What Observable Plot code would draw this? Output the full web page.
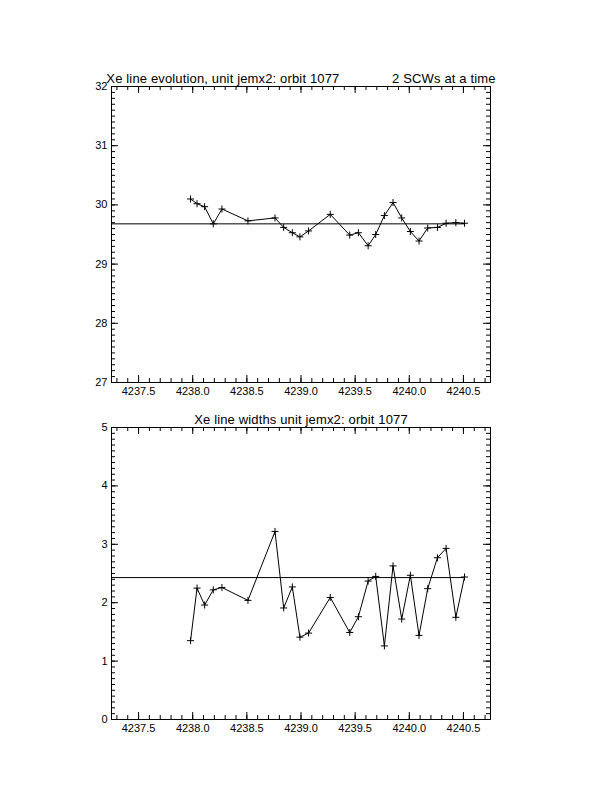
<!DOCTYPE html>
<html>
<head>
<meta charset="utf-8">
<script src="https://cdn.jsdelivr.net/npm/d3@7"></script>
<script src="https://cdn.jsdelivr.net/npm/@observablehq/plot@0.6"></script>
<style>
  html, body { margin: 0; padding: 0; background: white; }
  #chart { position: relative; width: 612px; height: 792px; background: white; }
  #chart svg { display: block; white-space: pre; }
</style>
</head>
<body>
<div id="chart"></div>
<script>
// ---- data ----
const xTimes = [4237.98, 4238.04, 4238.11, 4238.19, 4238.27, 4238.51, 4238.76, 4238.84, 4238.92, 4238.99,
  4239.07, 4239.27, 4239.45, 4239.53, 4239.62, 4239.69, 4239.77, 4239.85, 4239.93, 4240.01,
  4240.09, 4240.17, 4240.26, 4240.34, 4240.43, 4240.51];
const linePosition = [30.10, 30.02, 29.97, 29.68, 29.93, 29.73, 29.78, 29.62, 29.53, 29.46,
  29.56, 29.84, 29.49, 29.53, 29.31, 29.50, 29.82, 30.04, 29.78, 29.55,
  29.39, 29.61, 29.62, 29.69, 29.70, 29.69];
const lineWidth = [1.35, 2.25, 1.96, 2.22, 2.26, 2.04, 3.22, 1.91, 2.27, 1.41,
  1.48, 2.09, 1.49, 1.76, 2.37, 2.45, 1.26, 2.63, 1.72, 2.47,
  1.44, 2.24, 2.77, 2.93, 1.75, 2.44];
const meanPosition = 29.68;
const meanWidth = 2.43;
const xTickLabels = [4237.5, 4238.0, 4238.5, 4239.0, 4239.5, 4240.0, 4240.5];
const yTicksTop = [27, 28, 29, 30, 31, 32];
const yTicksBottom = [0, 1, 2, 3, 4, 5];
const titleTop = "Xe line evolution, unit jemx2: orbit 1077              2 SCWs at a time";
const titleBottom = "Xe line widths unit jemx2: orbit 1077";

const xDomain = [4237.25, 4240.75];
const xMinor = d3.range(4237.3, 4240.75, 0.1).map(v => +v.toFixed(1));

function panel({values, mean, yDomain, yTicks, title, height, marginTop, marginBottom}) {
  const marginLeft = 111, marginRight = 122, width = 612;
  const W = width - marginLeft - marginRight;
  const H = height - marginTop - marginBottom;
  const yMinor = d3.range(yDomain[0], yDomain[1] + 1e-9, 0.1).map(v => +v.toFixed(1));
  const rows = xTimes.map((t, i) => ({t, v: values[i]}));
  const major = 7, minor = 4;
  const svg = Plot.plot({
    width, height, marginLeft, marginRight, marginTop, marginBottom,
    style: {fontFamily: "'Liberation Sans', Arial, sans-serif", fontSize: "11px", background: "white", color: "black", overflow: "visible"},
    x: {domain: xDomain},
    y: {domain: yDomain},
    marks: [
      // inward ticks on all four sides
      Plot.tickX(xTickLabels, {x: d => d, insetTop: H - major, stroke: "black"}),
      Plot.tickX(xTickLabels, {x: d => d, insetBottom: H - major, stroke: "black"}),
      Plot.tickX(xMinor, {x: d => d, insetTop: H - minor, stroke: "black"}),
      Plot.tickX(xMinor, {x: d => d, insetBottom: H - minor, stroke: "black"}),
      Plot.tickY(yTicks, {y: d => d, insetRight: W - major, stroke: "black"}),
      Plot.tickY(yTicks, {y: d => d, insetLeft: W - major, stroke: "black"}),
      Plot.tickY(yMinor, {y: d => d, insetRight: W - minor, stroke: "black"}),
      Plot.tickY(yMinor, {y: d => d, insetLeft: W - minor, stroke: "black"}),
      Plot.axisX({ticks: xTickLabels, tickSize: 0, tickPadding: 5, tickFormat: d3.format(".1f"), label: null}),
      Plot.axisY({ticks: yTicks, tickSize: 0, tickPadding: 4, tickFormat: d3.format("d"), label: null}),
      Plot.frame({stroke: "black"}),
      Plot.ruleY([{y: mean, x1: xDomain[0], x2: xTimes[xTimes.length - 1]}], {y: "y", x1: "x1", x2: "x2", stroke: "black"}),
      Plot.line(rows, {x: "t", y: "v", stroke: "black", strokeWidth: 1}),
      Plot.dot(rows, {x: "t", y: "v", symbol: "plus", r: 2.4, stroke: "black", strokeWidth: 1}),
      Plot.text([title], {text: d => d, frameAnchor: "top", lineAnchor: "bottom", dy: -4, fontSize: 13, fill: "black"})
    ]
  });
  svg.style.whiteSpace = "pre";
  svg.querySelectorAll("text").forEach(t => {
    if (t.textContent.startsWith("Xe")) t.style.letterSpacing = "0.15px";
  });
  return svg;
}

const chart = document.getElementById("chart");
chart.appendChild(panel({values: linePosition, mean: meanPosition, yDomain: [27, 32], yTicks: yTicksTop,
  title: titleTop, height: 400, marginTop: 86, marginBottom: 18}));
chart.appendChild(panel({values: lineWidth, mean: meanWidth, yDomain: [0, 5], yTicks: yTicksBottom,
  title: titleBottom, height: 392, marginTop: 27, marginBottom: 73}));
</script>
</body>
</html>
